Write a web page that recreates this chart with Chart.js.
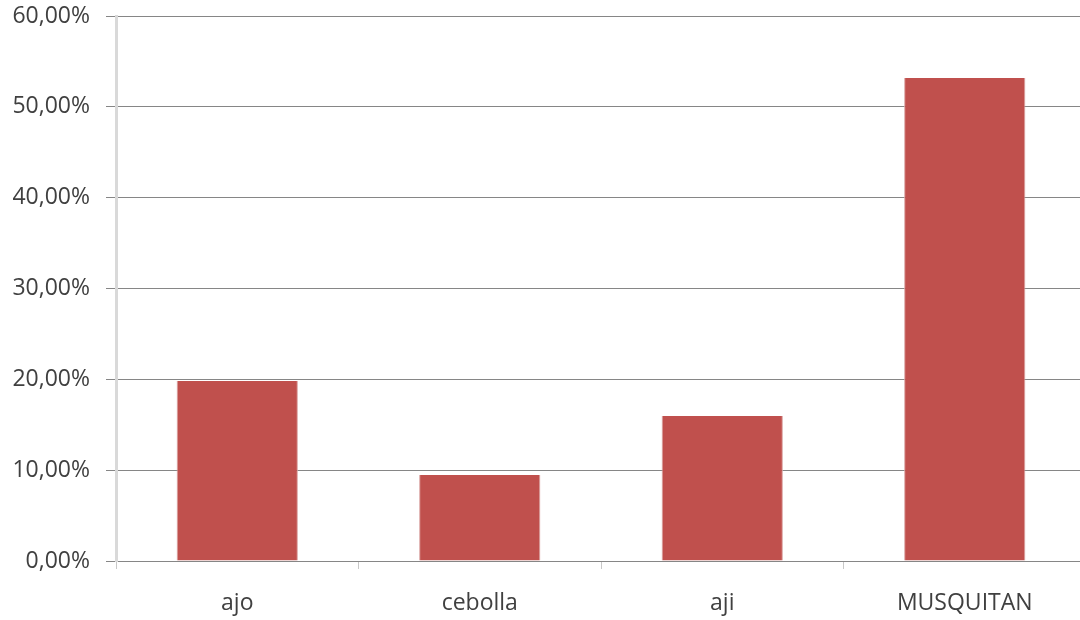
<!DOCTYPE html>
<html>
<head>
<meta charset="utf-8">
<script src="https://cdn.jsdelivr.net/npm/chart.js@4.4.1/dist/chart.umd.min.js"></script>
<style>
  html, body { margin: 0; padding: 0; background: #fff; overflow: hidden; }
  #wrap { width: 1090px; height: 620px; }
</style>
</head>
<body>
<div id="wrap"><canvas id="chart"></canvas></div>
<script>
const categories = ['ajo', 'cebolla', 'aji', 'MUSQUITAN'];
const shares = [0.1982, 0.0947, 0.1596, 0.5318];
const yTicks = [0, 0.1, 0.2, 0.3, 0.4, 0.5, 0.6];

function pct(v) {
    return (v * 100).toFixed(2).replace('.', ',') + '%';
}

const ctx = document.getElementById('chart').getContext('2d');
new Chart(ctx, {
    type: 'bar',
    data: {
        labels: categories,
        datasets: [{
            data: shares,
            backgroundColor: '#C0504D',
            borderColor: '#D9A3A1',
            borderWidth: { left: 1, right: 1, top: 0, bottom: 0 },
            barPercentage: 0.5,
            categoryPercentage: 1
        }]
    },
    options: {
        responsive: true,
        maintainAspectRatio: false,
        animation: false,
        layout: { padding: { top: 16, right: 4, left: 0, bottom: 0 } },
        plugins: { legend: { display: false }, tooltip: { enabled: false } },
        scales: {
            x: {
                grid: {
                    drawOnChartArea: false,
                    drawTicks: true,
                    tickLength: 8,
                    color: '#C8C8C8'
                },
                border: { display: false },
                ticks: {
                    color: '#404040',
                    padding: 21,
                    font: { family: 'Open Sans', size: 23 }
                },
                afterFit: function (scale) {
                    scale.height = 59;
                    scale.paddingLeft = 0;
                    scale.paddingRight = 0;
                }
            },
            y: {
                min: 0,
                max: 0.6,
                afterBuildTicks: function (scale) {
                    scale.ticks = yTicks.map(v => ({ value: v }));
                },
                grid: {
                    color: '#868686',
                    lineWidth: 1,
                    tickLength: 10
                },
                border: { display: true, color: '#D9D9D9', width: 3 },
                ticks: {
                    color: '#404040',
                    padding: 16,
                    font: { family: 'Open Sans', size: 23 },
                    callback: function (v) { return pct(v); }
                },
                afterFit: function (scale) {
                    scale.width = 116;
                    scale.paddingTop = 0;
                    scale.paddingBottom = 0;
                }
            }
        }
    }
});
</script>
</body>
</html>
